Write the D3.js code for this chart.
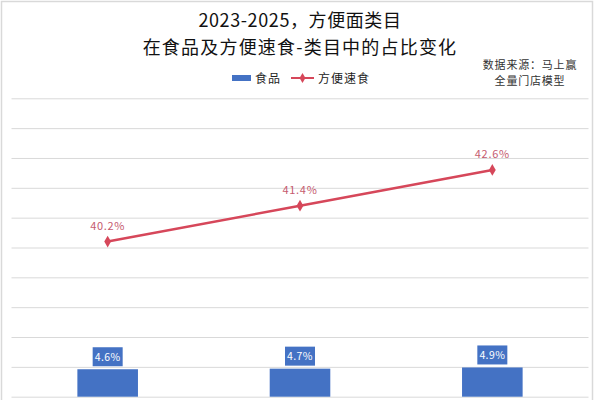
<!DOCTYPE html>
<html><head><meta charset="utf-8">
<script src="https://cdn.jsdelivr.net/npm/d3@7"></script>
<style>body{margin:0;background:#fff;} svg{display:block;}</style>
</head><body>
<svg id="c" width="600" height="400"></svg>
<script>
const categories = ["2023", "2024", "2025"];
const foodShare = [4.6, 4.7, 4.9];          // 食品 (bars)
const convenienceShare = [40.2, 41.4, 42.6]; // 方便速食 (line)
const titleLines = ["2023-2025，方便面类目", "在食品及方便速食-类目中的占比变化"];
const sourceLines = ["数据来源：马上赢", "全量门店模型"];
const seriesNames = ["食品", "方便速食"];

(function () {
const FONT = "'Noto Sans CJK SC', 'Noto Sans', sans-serif";
const BLUE = "#4472C4", RED = "#D6475A", LABELRED = "#C55A6E";
const svg = d3.select("#c");

// border
svg.append("rect").attr("x", 1.5).attr("y", 1.5).attr("width", 591).attr("height", 410)
  .attr("fill", "none").attr("stroke", "#d9d9d9").attr("stroke-width", 1.5);

const pLeft = 11.5, pRight = 588.5, pTop = 98.3, pBottom = 396.7;
const x = d3.scaleBand().domain(categories).range([pLeft, pRight]).paddingInner(0).paddingOuter(0);
const yLine = d3.scaleLinear().domain([35, 45]).range([pBottom, pTop]);
const yBar = d3.scaleLinear().domain([0, 50]).range([pBottom, pTop]);

// gridlines
const gridAxis = d3.axisLeft(yLine).tickValues(d3.range(35, 46, 1)).tickSize(-(pRight - pLeft)).tickFormat("");
const g = svg.append("g").attr("transform", `translate(${pLeft},0)`).call(gridAxis);
g.select(".domain").remove();
g.selectAll("line").attr("stroke", "#d9d9d9").attr("stroke-width", 1);

// bars
const bw = x.bandwidth() * 0.315;
svg.selectAll(".bar").data(foodShare).join("rect")
  .attr("x", (d, i) => x(categories[i]) + x.bandwidth() / 2 - bw / 2)
  .attr("y", d => yBar(d))
  .attr("width", bw).attr("height", d => yBar(0) - yBar(d))
  .attr("fill", BLUE);

// bar labels
foodShare.forEach((d, i) => {
  const cx = x(categories[i]) + x.bandwidth() / 2;
  const by = yBar(d) - 3;
  svg.append("rect").attr("x", cx - 15).attr("y", by - 19).attr("width", 30).attr("height", 19).attr("fill", BLUE);
  svg.append("text").attr("x", cx).attr("y", by - 5.5).attr("text-anchor", "middle")
    .attr("font-family", FONT).attr("font-size", 10.5).attr("letter-spacing", 0.4)
    .attr("fill", "#fff").text(d.toFixed(1) + "%");
});

// line
const line = d3.line().x((d, i) => x(categories[i]) + x.bandwidth() / 2).y(d => yLine(d));
svg.append("path").datum(convenienceShare).attr("d", line)
  .attr("fill", "none").attr("stroke", RED).attr("stroke-width", 2.5);
const diamond = d3.symbol().type(d3.symbolDiamond).size(40);
svg.selectAll(".pt").data(convenienceShare).join("path")
  .attr("d", diamond)
  .attr("transform", (d, i) => `translate(${x(categories[i]) + x.bandwidth() / 2},${yLine(d)})`)
  .attr("fill", RED);
svg.selectAll(".lbl").data(convenienceShare).join("text")
  .attr("x", (d, i) => x(categories[i]) + x.bandwidth() / 2)
  .attr("y", d => yLine(d) - 12)
  .attr("text-anchor", "middle").attr("font-family", FONT).attr("font-size", 11)
  .attr("letter-spacing", 0.7)
  .attr("fill", LABELRED).text(d => d.toFixed(1) + "%");

// title
svg.selectAll(".title").data(titleLines).join("text")
  .attr("x", 300).attr("y", (d, i) => 27 + i * 27)
  .attr("text-anchor", "middle").attr("font-family", FONT).attr("font-size", 18)
  .attr("letter-spacing", (d, i) => i === 1 ? 1.2 : 0.6)
  .attr("fill", "#111").text(d => d);

// legend
svg.append("rect").attr("x", 232).attr("y", 75).attr("width", 19).attr("height", 6).attr("fill", BLUE);
svg.append("text").attr("x", 255).attr("y", 82.5).attr("font-family", FONT).attr("font-size", 12)
  .attr("letter-spacing", 1).attr("fill", "#222").text(seriesNames[0]);
svg.append("line").attr("x1", 291).attr("x2", 314).attr("y1", 78).attr("y2", 78).attr("stroke", RED).attr("stroke-width", 2);
svg.append("path").attr("d", d3.symbol().type(d3.symbolDiamond).size(30)).attr("transform", "translate(302.5,78)").attr("fill", RED);
svg.append("text").attr("x", 318).attr("y", 82.5).attr("font-family", FONT).attr("font-size", 12)
  .attr("letter-spacing", 1).attr("fill", "#222").text(seriesNames[1]);

// source
svg.selectAll(".src").data(sourceLines).join("text")
  .attr("x", 530).attr("y", (d, i) => 69 + i * 16)
  .attr("text-anchor", "middle").attr("font-family", FONT).attr("font-size", 11)
  .attr("letter-spacing", 0.8).attr("fill", "#333").text(d => d);
})();
</script>
</body></html>
